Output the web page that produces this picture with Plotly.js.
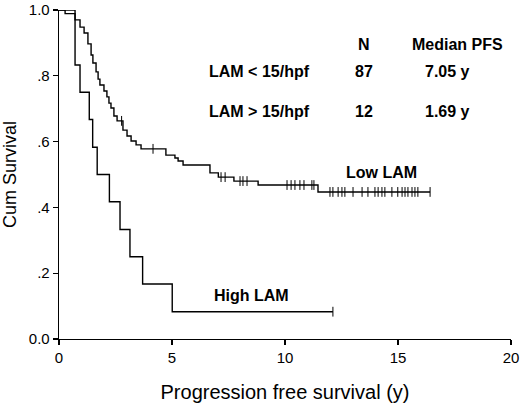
<!DOCTYPE html>
<html>
<head>
<meta charset="utf-8">
<script src="https://cdn.plot.ly/plotly-3.0.1.min.js"></script>
<style>
  html, body { margin: 0; padding: 0; background: #fff; }
  #km_plot { width: 520px; height: 403px; }
</style>
</head>
<body>
<div id="km_plot"></div>
<script>
// low LAM (< 15/hpf), n = 87: event times (y) and survival after each step
const low_times = [0.27, 0.71, 0.93, 1.11, 1.28, 1.42, 1.50, 1.64, 1.73, 1.81,
                   1.99, 2.12, 2.21, 2.30, 2.43, 2.57, 2.83, 3.01, 3.19, 3.41,
                   3.63, 4.73, 5.13, 5.27, 5.49, 6.68, 7.05, 7.74, 8.81, 11.46];
const low_surv = [0.989, 0.970, 0.948, 0.930, 0.897, 0.863, 0.839, 0.812, 0.790, 0.772,
                  0.754, 0.736, 0.717, 0.702, 0.678, 0.663, 0.635, 0.617, 0.602, 0.590,
                  0.578, 0.559, 0.550, 0.541, 0.529, 0.505, 0.492, 0.480, 0.468, 0.447];
const low_censored = [2.77, 4.16, 7.17, 7.35, 8.01, 8.14, 8.32, 10.09, 10.27, 10.44,
                      10.66, 10.84, 11.19, 11.28, 11.99, 12.12, 12.35, 12.52, 12.65, 13.01,
                      13.41, 13.67, 13.98, 14.12, 14.29, 14.42, 14.73, 14.99, 15.18, 15.31,
                      15.44, 15.62, 15.75, 15.88, 16.42];
const low_end = 16.42;

// high LAM (> 15/hpf), n = 12
const high_times = [0.71, 0.93, 1.34, 1.49, 1.69, 2.23, 2.70, 3.14, 3.70, 5.01];
const high_surv = [0.833, 0.750, 0.667, 0.583, 0.500, 0.417, 0.333, 0.250, 0.167, 0.083];
const high_censored = [12.12];
const high_end = 12.12;

// table in the upper right
const table_header = ["N", "Median PFS"];
const table_groups = ["LAM < 15/hpf", "LAM > 15/hpf"];
const table_n = ["87", "12"];
const table_median = ["7.05 y", "1.69 y"];

const x_ticks = [0, 5, 10, 15, 20];
const y_ticks = [0, 0.2, 0.4, 0.6, 0.8, 1.0];
const y_tick_text = ["0.0", ".2", ".4", ".6", ".8", "1.0"];

const font_family = "Liberation Sans, Arial, sans-serif";

function step_trace(times, surv, end_time)
{
    const x = [0].concat(times, [end_time]);
    const y = [1].concat(surv, [surv[surv.length - 1]]);
    return {x: x, y: y, mode: "lines", line: {shape: "hv", color: "#000", width: 1.4},
            hoverinfo: "skip", showlegend: false};
}

function surv_at(times, surv, t)
{
    let s = 1;
    for (let i = 0; i < times.length; i++) {
        if (times[i] <= t) s = surv[i];
    }
    return s;
}

function censor_trace(censored, times, surv)
{
    return {x: censored, y: censored.map((t) => surv_at(times, surv, t)), mode: "markers",
            marker: {symbol: "line-ns", size: 7, line: {color: "#000", width: 1}},
            hoverinfo: "skip", showlegend: false};
}

const traces = [
    step_trace(low_times, low_surv, low_end),
    censor_trace(low_censored, low_times, low_surv),
    step_trace(high_times, high_surv, high_end),
    censor_trace(high_censored, high_times, high_surv)
];

const bold = {family: font_family, size: 16, color: "#000", weight: "bold"};
const col_x = [13.5, 17.4];
const row_y = [0.894, 0.812, 0.690];
let annotations = [];
table_header.forEach((t, i) => annotations.push({x: col_x[i] + (i === 1 ? 0.25 : 0), y: row_y[0], text: "<b>" + t + "</b>"}));
table_groups.forEach((t, i) => {
    annotations.push({x: 8.85, y: row_y[i + 1], text: "<b>" + t + "</b>"});
    annotations.push({x: col_x[0], y: row_y[i + 1], text: "<b>" + table_n[i] + "</b>"});
    annotations.push({x: col_x[1] - 0.2, y: row_y[i + 1], text: "<b>" + table_median[i] + "</b>"});
});
annotations.push({x: 14.29, y: 0.505, text: "<b>Low LAM</b>"});
annotations.push({x: 8.5, y: 0.131, text: "<b>High LAM</b>"});
annotations = annotations.map((a) => Object.assign(a, {xref: "x", yref: "y", showarrow: false, font: bold}));

const axis_common = {
    showline: true, linecolor: "#000", linewidth: 1.3, mirror: false,
    ticks: "outside", ticklen: 5, tickwidth: 1.3, tickcolor: "#000",
    showgrid: false, zeroline: false, tickfont: {family: font_family, size: 15, color: "#000"}
};

const layout = {
    width: 520, height: 403,
    margin: {l: 59, r: 9, t: 10, b: 64},
    paper_bgcolor: "#fff", plot_bgcolor: "#fff",
    font: {family: font_family, color: "#000"},
    xaxis: Object.assign({}, axis_common, {
        range: [0, 20], tickvals: x_ticks,
        title: {text: "Progression free survival (y)", font: {family: font_family, size: 20, color: "#000"}, standoff: 20}
    }),
    yaxis: Object.assign({}, axis_common, {
        range: [0, 1], tickvals: y_ticks, ticktext: y_tick_text,
        title: {text: "Cum Survival", font: {family: font_family, size: 18, color: "#000"}, standoff: 12}
    }),
    annotations: annotations,
    showlegend: false
};

Plotly.newPlot("km_plot", traces, layout, {displayModeBar: false, staticPlot: true});
</script>
</body>
</html>
